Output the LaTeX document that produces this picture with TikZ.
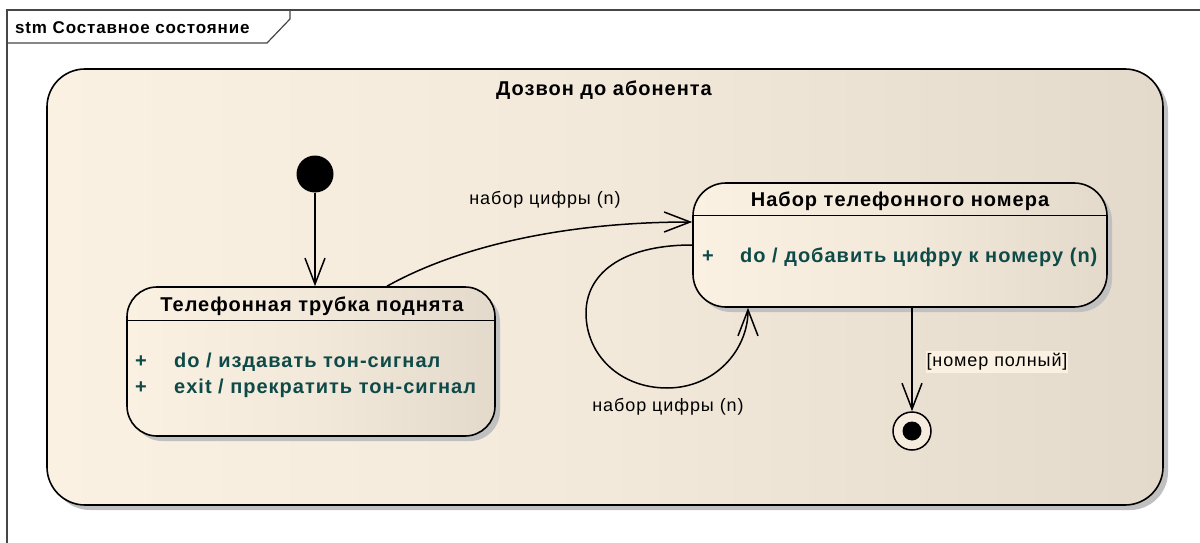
\documentclass[tikz,border=0pt]{standalone}
\usepackage{fontspec}
\setmainfont{Liberation Sans}[LetterSpace=5]
\usetikzlibrary{arrows.meta,shadows,calc}
\definecolor{frameC}{RGB}{70,70,70}
\definecolor{fillL}{RGB}{251,241,227}
\definecolor{fillR}{RGB}{228,218,204}
\definecolor{itemC}{RGB}{14,74,72}
\definecolor{shadowC}{RGB}{192,192,192}
\begin{document}
\begin{tikzpicture}[x=1pt,y=-1pt,
  ttl/.style={font=\bfseries\fontsize{20}{22}\selectfont, inner sep=0pt},
  itm/.style={font=\bfseries\fontsize{20}{22}\selectfont, text=itemC, inner sep=0pt},
  lbl/.style={font=\fontsize{18}{20}\selectfont, inner sep=0pt},
  stbox/.style={draw=black, line width=1.6pt, left color=fillL, right color=fillR,
     middle color=fillL!65!fillR,
     drop shadow={shadow xshift=5pt, shadow yshift=-5pt, fill=shadowC, opacity=1},
     inner sep=0pt},
  tr/.style={draw=black, line width=1.5pt, -{Straight Barb[length=26pt,width=20pt,line width=1.5pt]}},
]
\useasboundingbox (0,0) rectangle (1200,543);
\fill[white] (0,0) rectangle (1200,543);
% frame
\draw[frameC, line width=1.6pt] (7,543) -- (7,10) -- (1200,10);
\draw[frameC, line width=1.2pt] (7,43) -- (267,43) -- (290,19) -- (290,10);
\node[font=\bfseries\fontsize{17}{20}\selectfont, anchor=west, inner sep=0pt] (ftitle) at (15,28) {stm Составное состояние};

% composite state
\node[stbox, rounded corners=38pt, minimum width=1116pt, minimum height=436pt] (comp) at (605,287) {};
\node[ttl] (comptitle) at (604,90) {Дозвон до абонента};

% state 1
\node[stbox, rounded corners=30pt, minimum width=368pt, minimum height=149pt] (s1) at (311,361.5) {};
\draw[line width=1.4pt] ($(s1.north west)+(0,34)$) -- ($(s1.north east)+(0,34)$);
\node[ttl] (s1title) at (312,306) {Телефонная трубка поднята};
\node[itm] (s1p1) at (141,362) {+};
\node[itm, anchor=west] (s1i1) at (174,362) {do / издавать тон-сигнал};
\node[itm] (s1p2) at (141,388) {+};
\node[itm, anchor=west] (s1i2) at (174,388) {exit / прекратить тон-сигнал};

% state 2
\node[stbox, rounded corners=33pt, minimum width=414pt, minimum height=124pt] (s2) at (900,245) {};
\draw[line width=1.4pt] ($(s2.north west)+(0,33)$) -- ($(s2.north east)+(0,33)$);
\node[ttl] (s2title) at (900,201) {Набор телефонного номера};
\node[itm] (s2p1) at (708,257) {+};
\node[itm, anchor=west] (s2i1) at (740,257) {do / добавить цифру к номеру (n)};

% initial and final
\node[circle, fill=black, minimum size=37pt, inner sep=0pt] (init) at (315,174) {};
\node[circle, draw=black, line width=1.5pt, fill=fillL!80!fillR, minimum size=38pt, inner sep=0pt] (fin) at (912,431) {};
\node[circle, fill=black, minimum size=19pt, inner sep=0pt] (fininner) at (fin.center) {};

% transitions
\draw[tr] (init.south) -- (init.south |- s1.north);
\draw[tr] ($(s1.north)+(76,0)$) .. controls (457,247) and (563,222) .. ($(s2.west)+(0,-23)$);
\draw[tr] (s2.west) .. controls (620,245) and (586,275) .. (586,313)
   .. controls (586,355) and (620,388) .. (667,388)
   .. controls (715,388) and (748,350) .. ($(s2.south)+(-152,0)$);
\draw[tr] (fin.north |- s2.south) -- (fin.north);

% labels
\node[lbl] (l1) at (545,200) {набор цифры (n)};
\node[lbl] (l2) at (668,407) {набор цифры (n)};
\node[lbl, fill=fillL, inner xsep=1pt, inner ysep=2pt] (l3) at (997,362) {[номер полный]};
\end{tikzpicture}
\end{document}
